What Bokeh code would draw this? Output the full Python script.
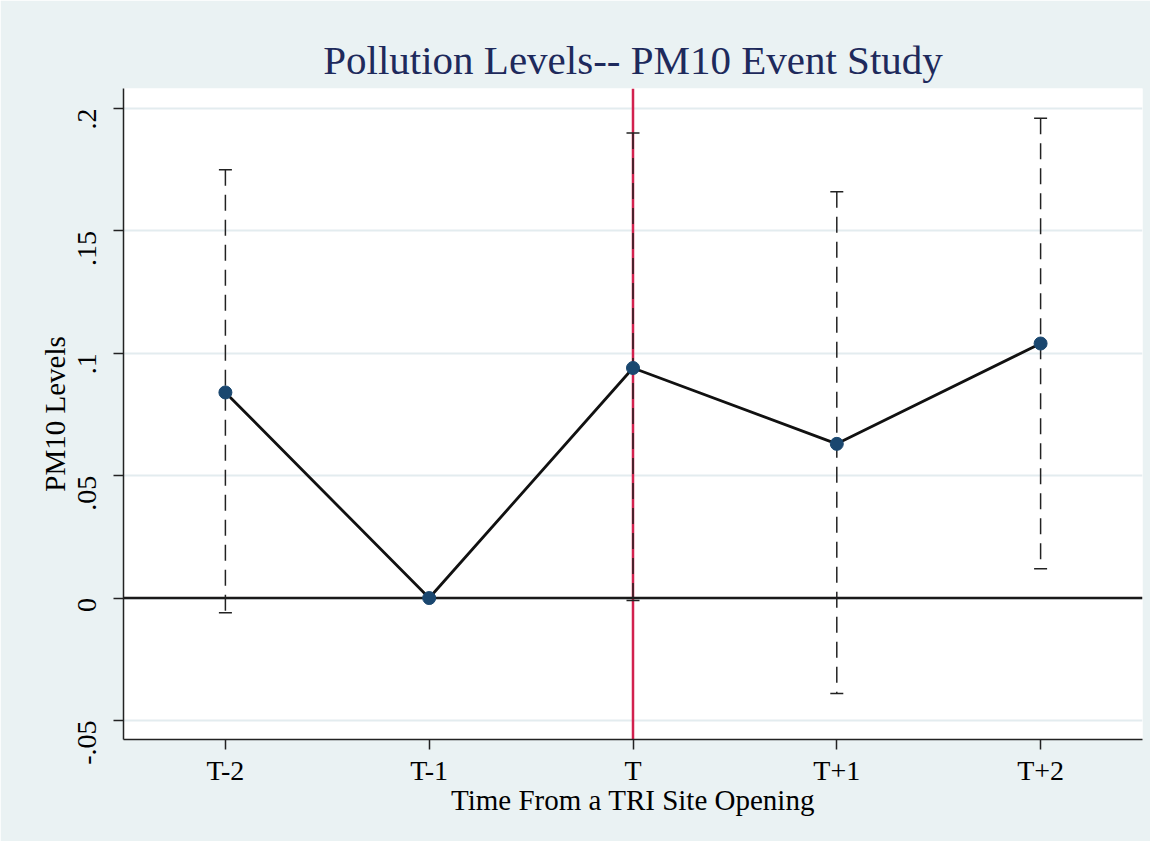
import math
from bokeh.plotting import figure
from bokeh.models import Span, FixedTicker, Range1d, ColumnDataSource
from bokeh.embed import file_html
from bokeh.resources import INLINE

# ---- data ----
periods = ["T-2", "T-1", "T", "T+1", "T+2"]
period_idx = [0, 1, 2, 3, 4]
coef = [0.084, 0.0, 0.094, 0.063, 0.104]
ci_low_idx = [0, 2, 3, 4]
ci_upper = [0.175, 0.190, 0.166, 0.196]
ci_lower = [-0.006, -0.001, -0.039, 0.012]
y_ticks = [-0.05, 0.0, 0.05, 0.1, 0.15, 0.2]
y_tick_labels = ["-.05", "0", ".05", ".1", ".15", ".2"]
event_period = "T"

BG = "#EAF2F3"
FONT = "Liberation Serif"

p = figure(width=1150, height=841, output_backend="svg", toolbar_location=None,
           x_range=Range1d(-0.5, 4.5), y_range=Range1d(-0.0578, 0.2082),
           min_border_left=123, min_border_right=8, min_border_top=88, min_border_bottom=102)
p.background_fill_color = "white"
p.border_fill_color = BG
p.outline_line_color = None

p.title.text = "Pollution Levels-- PM10 Event Study"
p.title.align = "center"
p.title.text_font = FONT
p.title.text_font_size = "41px"
p.title.text_font_style = "normal"
p.title.text_color = "#1E2A5C"
p.title.standoff = 12

# grid
p.xgrid.visible = False
p.ygrid.ticker = FixedTicker(ticks=y_ticks)
p.ygrid.grid_line_color = "#E3ECEF"
p.ygrid.grid_line_width = 2

# axes
for ax in (p.xaxis[0], p.yaxis[0]):
    ax.axis_line_color = "#222222"
    ax.axis_line_width = 1.5
    ax.major_tick_line_color = "#222222"
    ax.major_tick_line_width = 1.5
    ax.major_tick_out = 10
    ax.major_tick_in = 0
    ax.minor_tick_line_color = None
    ax.major_label_text_font = FONT
    ax.major_label_text_font_size = "28px"
    ax.major_label_text_color = "black"
    ax.axis_label_text_font = FONT
    ax.axis_label_text_font_size = "29px"
    ax.axis_label_text_font_style = "normal"
    ax.axis_label_text_color = "black"

p.xaxis.ticker = FixedTicker(ticks=period_idx)
p.xaxis.major_label_overrides = {i: lab for i, lab in zip(period_idx, periods)}
p.xaxis.axis_label = "Time From a TRI Site Opening"
p.xaxis.major_label_standoff = 5
p.xaxis.axis_label_standoff = -5

p.yaxis.ticker = FixedTicker(ticks=y_ticks)
p.yaxis.major_label_overrides = {t: lab for t, lab in zip(y_ticks, y_tick_labels)}
p.yaxis.major_label_orientation = math.pi / 2
p.yaxis.axis_label = "PM10 Levels"
p.yaxis.major_label_standoff = 26
p.yaxis.axis_label_standoff = -4

# reference lines
event_x = period_idx[periods.index(event_period)]
vline = Span(location=event_x, dimension="height", line_color="#D2214E", line_width=2.5, level="underlay")
p.add_layout(vline)
hline = Span(location=0, dimension="width", line_color="#1a1a1a", line_width=2.5, level="underlay")
p.add_layout(hline)

# confidence intervals
ci_x = [period_idx[i] for i in ci_low_idx]
ci_src = ColumnDataSource(dict(x=ci_x, up=ci_upper, lo=ci_lower))
p.segment(x0="x", y0="up", x1="x", y1="lo", source=ci_src,
          line_color="#222222", line_width=1.5, line_dash="16 9")
p.scatter(x="x", y="up", source=ci_src, marker="dash", size=13, line_color="#222222", line_width=1.5)
p.scatter(x="x", y="lo", source=ci_src, marker="dash", size=13, line_color="#222222", line_width=1.5)

# point estimates
p.line(period_idx, coef, line_color="#111111", line_width=2.8)
p.scatter(period_idx, coef, marker="circle", size=13, fill_color="#1A476F", line_color="#1A476F")

open("out.html", "w").write(file_html(p, INLINE))
